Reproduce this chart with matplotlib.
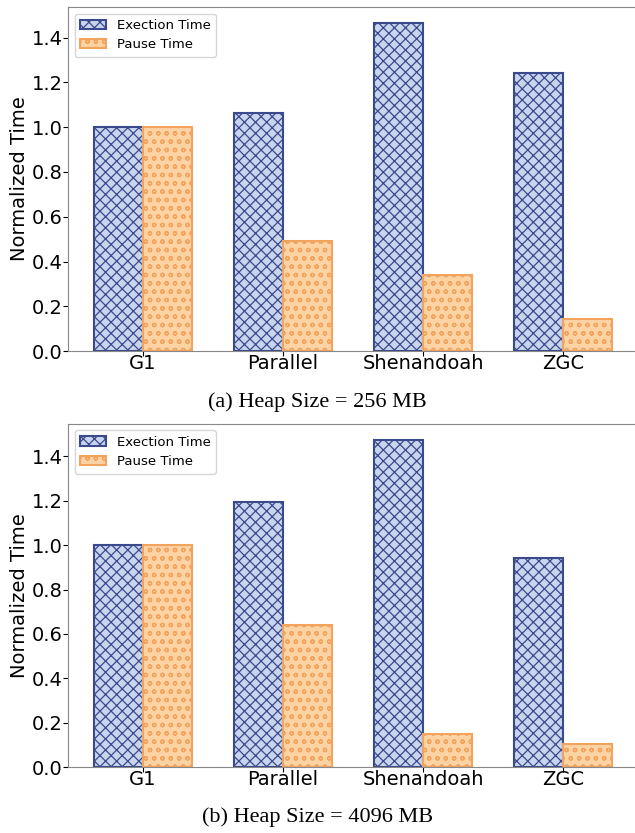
import numpy as np
import matplotlib
matplotlib.use('Agg')
import matplotlib.pyplot as plt

# dane
gcs = ['G1', 'Parallel', 'Shenandoah', 'ZGC']
exec_256 = [1.0, 1.063, 1.464, 1.241]
pause_256 = [1.0, 0.491, 0.339, 0.143]
exec_4096 = [1.0, 1.194, 1.473, 0.941]
pause_4096 = [1.0, 0.640, 0.149, 0.104]
captions = ['(a) Heap Size = 256 MB', '(b) Heap Size = 4096 MB']

plt.rcParams['hatch.linewidth'] = 0.9

fig = plt.figure(figsize=(6.35, 8.33), dpi=100)
ax1 = fig.add_axes([0.107, 0.5786, 0.898, 0.413])
ax2 = fig.add_axes([0.107, 0.0792, 0.898, 0.412])

x = np.arange(len(gcs))
w = 0.35

for ax, ex, pa, cap, cy in [(ax1, exec_256, pause_256, captions[0], 0.517),
                            (ax2, exec_4096, pause_4096, captions[1], 0.019)]:
    ax.bar(x, ex, -w, align='edge', color='#c9d5ee', edgecolor='#3b4a8c',
           hatch='xxx', linewidth=1.5, label='Exection Time')
    ax.bar(x, pa, w, align='edge', color='#fdd3a4', edgecolor='#f2a35e',
           hatch='oo', linewidth=1.5, label='Pause Time')
    ax.set_xticks(x)
    ax.set_xticklabels(gcs, fontsize=14)
    ax.tick_params(axis='x', pad=-1)
    ax.tick_params(axis='y', labelsize=14, pad=0.5)
    ax.set_ylabel('Normalized Time', fontsize=14, labelpad=2)
    for s in ax.spines.values():
        s.set_color('#888888')
    ax.legend(loc='upper left', fontsize=9.5)
    fig.text(0.5, cy, cap, ha='center', va='center', fontsize=16,
             family='Liberation Serif')

fig.savefig('out.png', dpi=100)
